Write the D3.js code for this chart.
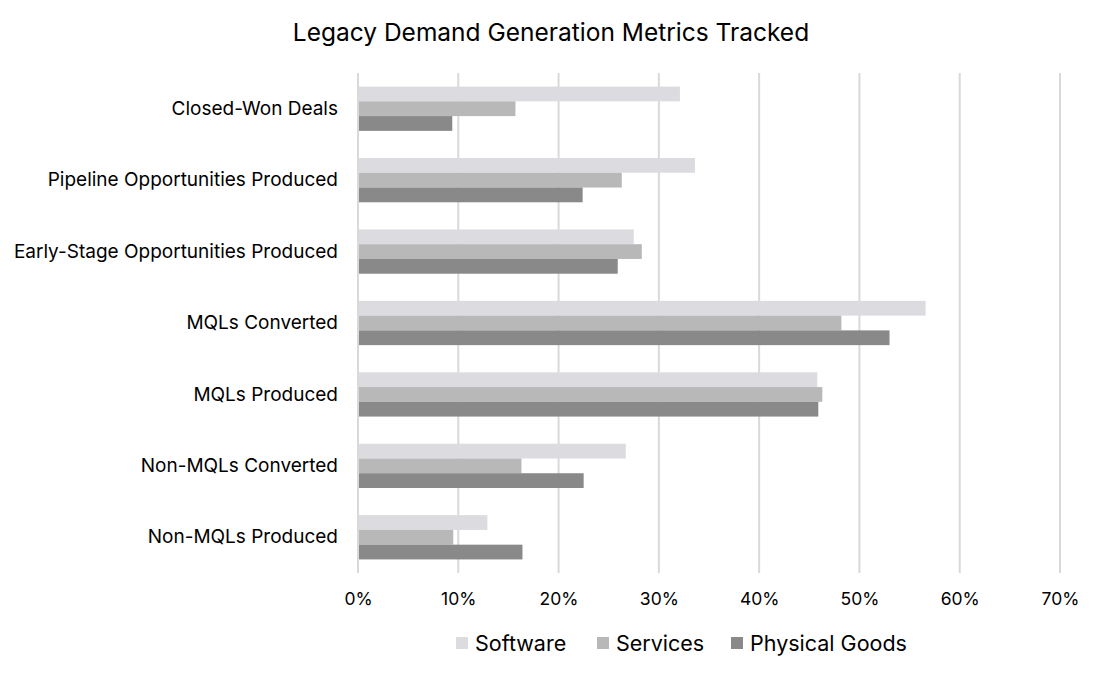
<!DOCTYPE html>
<html>
<head>
<meta charset="utf-8">
<script src="https://cdn.jsdelivr.net/npm/d3@7"></script>
<style>
  body { margin: 0; background: #fff; }
  text { font-family: Inter, "Noto Sans", sans-serif; fill: #000; }
</style>
</head>
<body>
<div id="chart"></div>
<script>
let categories = ["Closed-Won Deals", "Pipeline Opportunities Produced", "Early-Stage Opportunities Produced",
  "MQLs Converted", "MQLs Produced", "Non-MQLs Converted", "Non-MQLs Produced"]
let seriesNames = ["Software", "Services", "Physical Goods"]
let software = [32.1, 33.6, 27.5, 56.6, 45.8, 26.7, 12.9]
let services = [15.7, 26.3, 28.3, 48.2, 46.3, 16.3, 9.5]
let physicalGoods = [9.4, 22.4, 25.9, 53.0, 45.9, 22.5, 16.4]
let ticks = [0, 10, 20, 30, 40, 50, 60, 70]
let colors = ["#dcdbe0", "#b8b8b8", "#898989"]

let w = 1102, h = 678
let plotLeft = 358, plotRight = 1060, plotTop = 73, plotBottom = 573

let svg = d3.select("#chart").append("svg").attr("width", w).attr("height", h)

let rows = categories.map((c, i) => ({ cat: c, vals: [software[i], services[i], physicalGoods[i]] }))

let xScale = d3.scaleLinear().domain([0, 70]).range([plotLeft, plotRight])
let yScale = d3.scaleBand().domain(categories).range([plotTop, plotBottom]).paddingInner(0.38).paddingOuter(0.19)
let inner = d3.scaleBand().domain(seriesNames).range([0, yScale.bandwidth()])

svg.append("text")
  .attr("x", w / 2).attr("y", 41)
  .attr("text-anchor", "middle")
  .style("font-size", "24.5px")
  .text("Legacy Demand Generation Metrics Tracked")

// gridlines
svg.append("g").selectAll("line")
  .data(ticks)
  .enter()
  .append("line")
  .attr("x1", d => xScale(d)).attr("x2", d => xScale(d))
  .attr("y1", plotTop).attr("y2", plotBottom)
  .attr("stroke", "#d9d9d9").attr("stroke-width", 2)

let groups = svg.append("g").selectAll("g")
  .data(rows)
  .enter()
  .append("g")
  .attr("transform", d => "translate(0," + yScale(d.cat) + ")")

groups.selectAll("rect")
  .data(d => d.vals.map((v, j) => ({ name: seriesNames[j], v: v, j: j })))
  .enter()
  .append("rect")
  .attr("x", xScale(0) + 1)
  .attr("y", d => inner(d.name))
  .attr("width", d => xScale(d.v) - xScale(0) - 1)
  .attr("height", inner.bandwidth())
  .attr("fill", d => colors[d.j])

// category labels
let yAxis = d3.axisLeft(yScale).tickSize(0).tickPadding(20)
let yg = svg.append("g").attr("transform", "translate(" + plotLeft + ",0)").call(yAxis)
yg.select(".domain").remove()
yg.attr("font-family", null)
yg.selectAll("text").style("font-size", "19px")

// x tick labels
let xAxis = d3.axisBottom(xScale).tickValues(ticks).tickSize(0).tickPadding(20).tickFormat(d => d + "%")
let xg = svg.append("g").attr("transform", "translate(0," + plotBottom + ")").call(xAxis)
xg.select(".domain").remove()
xg.attr("font-family", null)
xg.selectAll("text").style("font-size", "17.5px")

// legend
let legendX = [456, 597, 731]
let legend = svg.append("g").selectAll("g")
  .data(seriesNames)
  .enter()
  .append("g")
  .attr("transform", (d, i) => "translate(" + legendX[i] + ",637)")
legend.append("rect").attr("width", 12).attr("height", 12).attr("fill", (d, i) => colors[i])
legend.append("text").attr("x", 19).attr("y", 13.5).style("font-size", "21.5px").text(d => d)
</script>
</body>
</html>
